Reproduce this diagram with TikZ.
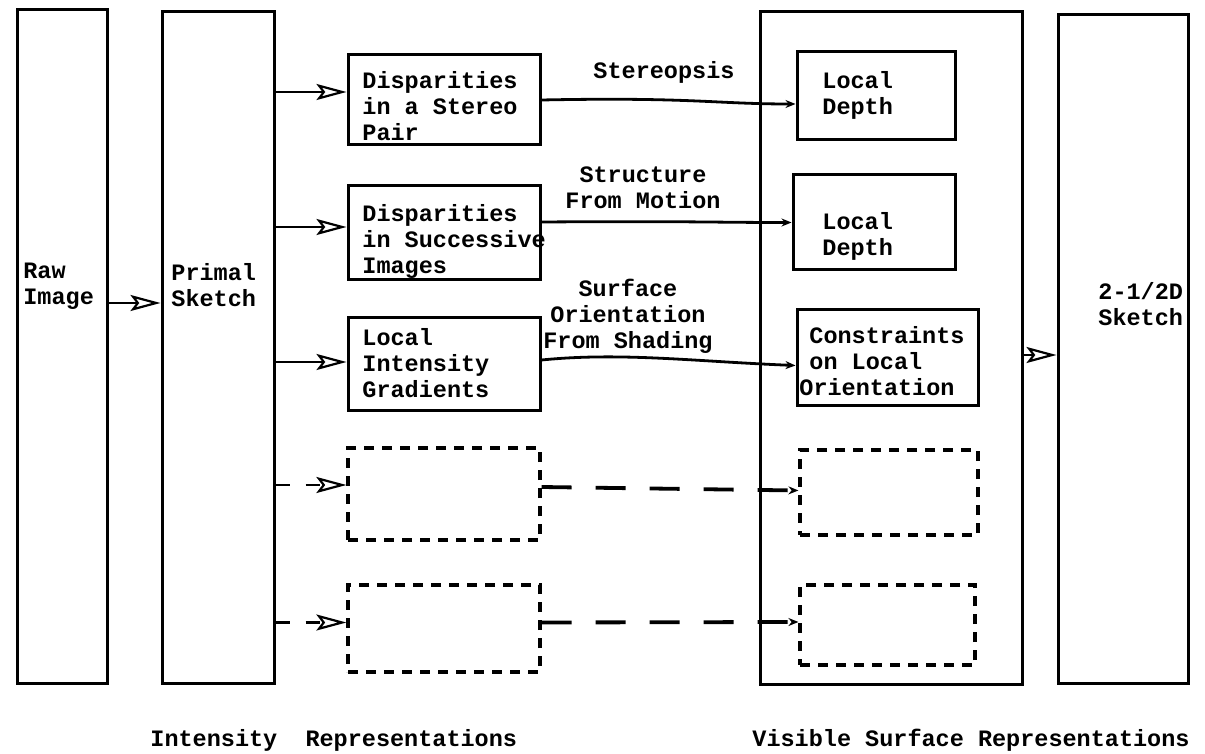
\documentclass[tikz,border=0pt]{standalone}
\usepackage{fontspec}
\setmainfont{Liberation Mono}
\usetikzlibrary{arrows.meta}
\tikzset{
  box/.style={draw, line width=1.5pt, inner sep=0pt},
  dbox/.style={draw, line width=1.6pt, inner sep=0pt, dash pattern=on 5pt off 4pt},
  tall/.style={draw, line width=1.5pt, inner sep=0pt},
  txt/.style={inner sep=0pt, align=left, anchor=north west},
  lab/.style={inner sep=0pt, align=center},
  bigarrow/.style={line width=1.4pt, -{Stealth[open, length=15pt, width=8pt, inset=3pt, line width=1.1pt]}},
  dbigarrow/.style={bigarrow, dash pattern=on 7pt off 8pt},
  smallarrow/.style={line width=1.4pt, -{Stealth[open, length=5pt, width=4pt, line width=0.8pt]}},
  dsmallarrow/.style={smallarrow, line width=1.9pt, dash pattern=on 15pt off 12pt}
}
\begin{document}
\begin{tikzpicture}[x=0.5pt, y=-0.5pt, font=\bfseries\fontsize{11.75}{13}\selectfont]
\useasboundingbox (0,0) rectangle (1205,754);

% tall boxes
\node[tall, minimum width=45pt, minimum height=336.5pt] (raw) at (62,346.5) {};
\node[tall, minimum width=56pt, minimum height=335.5pt] (primal) at (218,347.5) {};
\node[tall, minimum width=131pt, minimum height=336pt] (vis) at (891,348) {};
\node[tall, minimum width=65pt, minimum height=334pt] (sk) at (1123,349) {};

\node[txt] (rawt) at (23,263) {Raw\\Image};
\node[txt] (primt) at (171,263) {Primal\\Sketch};
\node[txt] (skt) at (1098,282) {2-1/2D\\Sketch};

% left column
\node[box, minimum width=96pt, minimum height=45pt] (b1) at (444,100) {};
\node[box, minimum width=96pt, minimum height=47pt] (b2) at (444,233) {};
\node[box, minimum width=96pt, minimum height=46pt] (b3) at (444,364) {};
\node[dbox, minimum width=96pt, minimum height=46pt] (b4) at (444,494) {};
\node[dbox, minimum width=96pt, minimum height=43.5pt] (b5) at (444,628.5) {};

\node[txt] (b1t) at (362,71) {Disparities\\in a Stereo\\Pair};
\node[txt] (b2t) at (362,204) {Disparities\\in Successive\\Images};
\node[txt] (b3t) at (362,328) {Local\\Intensity\\Gradients};

% right column
\node[box, minimum width=79pt, minimum height=44pt] (d1) at (876,96) {};
\node[box, minimum width=81pt, minimum height=47.5pt] (d2) at (874,222.5) {};
\node[box, minimum width=90.5pt, minimum height=47.5pt] (c3) at (887.5,357.5) {};
\node[dbox, minimum width=89pt, minimum height=42.5pt] (d4) at (889,492.5) {};
\node[dbox, minimum width=87.5pt, minimum height=40pt] (d5) at (887.5,625) {};

\node[txt] (d1t) at (822,71) {Local\\Depth};
\node[txt] (d2t) at (822,212) {Local\\Depth};
\node[txt] (c3t) at (799,326) {\hspace*{5pt}Constraints\\\hspace*{5pt}on Local\\Orientation};

% labels
\node[lab] (l1) at (664,72) {Stereopsis};
\node[lab] (l2) at (643,188) {Structure\\From Motion};
\node[lab] (l3) at (628,316) {Surface\\Orientation\\From Shading};

\node[inner sep=0pt, anchor=west] (int) at (150,740) {Intensity\ \ Representations};
\node[inner sep=0pt, anchor=west] (visl) at (752,740) {Visible Surface Representations};

% connectors
\draw[bigarrow] (raw.east |- 0,303) -- (primal.west |- 0,303);
\draw[bigarrow] ([yshift=4pt]primal.east |- b1.west) -- ([yshift=4pt]b1.west);
\draw[bigarrow] ([yshift=3pt]primal.east |- b2.west) -- ([yshift=3pt]b2.west);
\draw[bigarrow] ([yshift=1pt]primal.east |- b3.west) -- ([yshift=1pt]b3.west);
\draw[dbigarrow] ([yshift=4.5pt]primal.east |- b4.west) -- ([yshift=4.5pt]b4.west);
\draw[dbigarrow] ([yshift=3pt]primal.east |- b5.west) -- ([yshift=3pt]b5.west);

\draw[smallarrow] (b1.east) .. controls +(150,-3) and +(-80,0) .. ([yshift=-4pt]d1.west);
\draw[smallarrow] ([yshift=5.5pt]b2.east) .. controls +(150,-1) and +(-80,0) .. (d2.west);
\draw[smallarrow] ([yshift=2pt]b3.east) .. controls +(80,-8) and +(-100,-4) .. ([yshift=-4pt]c3.west);
\draw[dsmallarrow] ([yshift=3.5pt]b4.east) -- ([yshift=1pt]d4.west);
\draw[dsmallarrow] ([yshift=3pt]b5.east) -- ([yshift=1.5pt]d5.west);

\draw[bigarrow] ([yshift=-3.5pt]vis.east) -- ([yshift=-3.5pt]vis.east -| sk.west);
\end{tikzpicture}
\end{document}
